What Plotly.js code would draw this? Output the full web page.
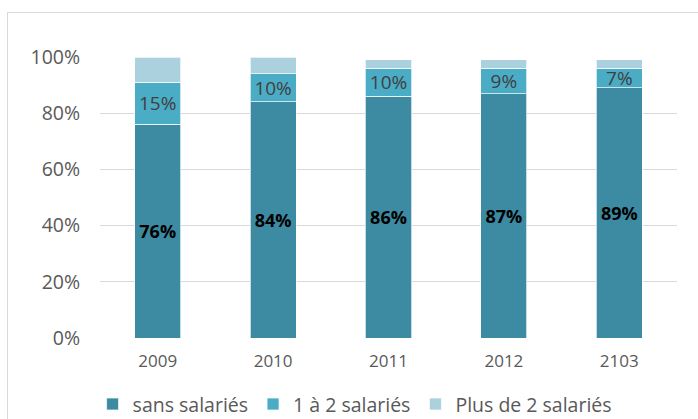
<!DOCTYPE html>
<html>
<head>
<meta charset="utf-8">
<script src="https://cdn.plot.ly/plotly-3.0.1.min.js"></script>
<style>
html,body{margin:0;padding:0;background:#fff;}
#wrap{position:relative;width:698px;height:419px;overflow:hidden;}
#frame{position:absolute;left:7px;top:12px;width:720px;height:440px;border:1px solid #d9d9d9;box-sizing:border-box;}
#chart{position:absolute;left:0;top:0;width:698px;height:419px;}
</style>
</head>
<body>
<div id="wrap"><div id="frame"></div><div id="chart"></div></div>
<script>
const categories = ['2009', '2010', '2011', '2012', '2103'];
const sansSalaries = [0.76, 0.84, 0.86, 0.87, 0.89];
const unADeux = [0.15, 0.10, 0.10, 0.09, 0.07];
const plusDeDeux = [0.09, 0.06, 0.03, 0.03, 0.03];
const seriesNames = ['sans salariés', '1 à 2 salariés', 'Plus de 2 salariés'];
const yTicks = [0, 0.2, 0.4, 0.6, 0.8, 1.0];
const yTickLabels = ['0%', '20%', '40%', '60%', '80%', '100%'];

const pct = v => Math.round(v * 100) + '%';
const FONT = 'Open Sans, sans-serif';

const traces = [
  {
    type: 'bar', name: seriesNames[0], x: categories, y: sansSalaries,
    marker: {color: '#3c8ba3', line: {color: 'rgba(255,255,255,0.7)', width: 1}},
    text: sansSalaries.map(pct), textposition: 'inside', insidetextanchor: 'middle',
    constraintext: 'none',
    textfont: {family: FONT, size: 18, color: '#000', weight: 'bold'},
    hoverinfo: 'none'
  },
  {
    type: 'bar', name: seriesNames[1], x: categories, y: unADeux,
    marker: {color: '#4bacc6', line: {color: 'rgba(255,255,255,0.7)', width: 1}},
    text: unADeux.map(pct), textposition: 'inside', insidetextanchor: 'middle',
    constraintext: 'none',
    textfont: {family: FONT, size: 19, color: '#404040'},
    hoverinfo: 'none'
  },
  {
    type: 'bar', name: seriesNames[2], x: categories, y: plusDeDeux,
    marker: {color: '#abd0de', line: {color: 'rgba(255,255,255,0.7)', width: 1}},
    hoverinfo: 'none'
  }
];

const layout = {
  width: 698, height: 419,
  paper_bgcolor: 'rgba(0,0,0,0)', plot_bgcolor: 'rgba(0,0,0,0)',
  margin: {l: 100, r: 21, t: 57, b: 81},
  barmode: 'stack', bargap: 0.6,
  font: {family: FONT, color: '#595959'},
  showlegend: true,
  legend: {
    orientation: 'h', xref: 'container', yref: 'container',
    x: 0.508, xanchor: 'center', y: 0.035, yanchor: 'middle',
    font: {family: FONT, size: 19.5, color: '#595959'},
    traceorder: 'normal', itemwidth: 30
  },
  xaxis: {
    type: 'category', showgrid: false, zeroline: false, showline: false,
    ticks: 'outside', ticklen: 8, tickcolor: 'rgba(0,0,0,0)',
    tickfont: {family: FONT, size: 17, color: '#595959'}
  },
  yaxis: {
    range: [0, 1.0], tickvals: yTicks, ticktext: yTickLabels,
    showgrid: true, gridcolor: '#d9d9d9', gridwidth: 1, zeroline: false,
    showline: false, ticks: 'outside', ticklen: 15, tickcolor: 'rgba(0,0,0,0)',
    tickfont: {family: FONT, size: 19.5, color: '#595959'}
  }
};

Plotly.newPlot('chart', traces, layout, {displayModeBar: false, staticPlot: true});
</script>
</body>
</html>
